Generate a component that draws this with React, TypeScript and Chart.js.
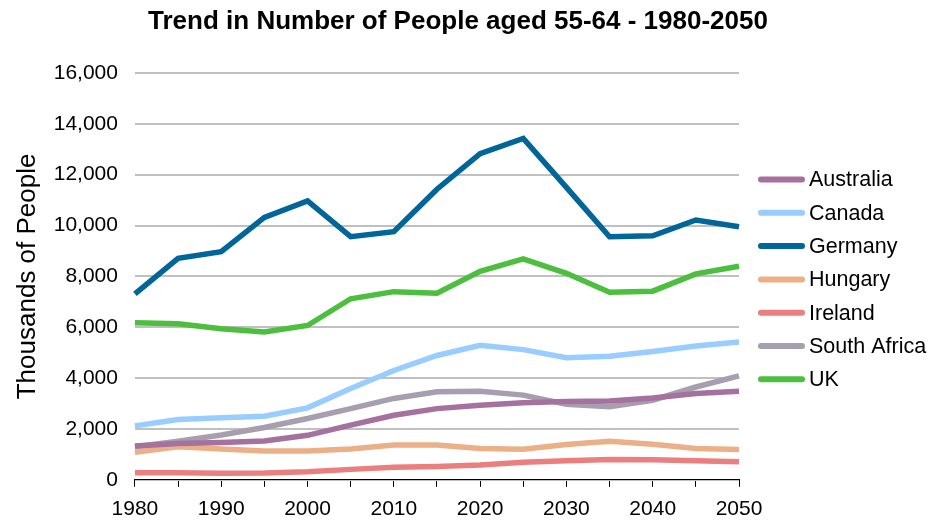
import React, { useEffect, useRef } from "react";
import { Chart, registerables } from "chart.js";

Chart.register(...registerables);

const years = ["1980", "1985", "1990", "1995", "2000", "2005", "2010", "2015", "2020", "2025", "2030", "2035", "2040", "2045", "2050"];

const australia = [1330, 1430, 1470, 1530, 1750, 2150, 2540, 2800, 2930, 3030, 3080, 3100, 3220, 3390, 3480];
const canada = [2120, 2370, 2440, 2500, 2830, 3590, 4300, 4890, 5290, 5120, 4800, 4860, 5050, 5260, 5420];
const germany = [7310, 8710, 8970, 10320, 10970, 9560, 9760, 11430, 12830, 13430, 11500, 9560, 9600, 10220, 9950];
const hungary = [1080, 1300, 1210, 1130, 1130, 1210, 1370, 1370, 1230, 1200, 1390, 1520, 1400, 1230, 1190];
const ireland = [280, 280, 260, 270, 320, 410, 490, 520, 580, 690, 750, 800, 790, 750, 710];
const southAfrica = [1300, 1520, 1760, 2060, 2410, 2800, 3200, 3460, 3480, 3330, 2970, 2870, 3130, 3650, 4090];
const uk = [6180, 6140, 5940, 5810, 6070, 7120, 7400, 7340, 8200, 8690, 8120, 7380, 7420, 8100, 8400];

const seriesNames = ["Australia", "Canada", "Germany", "Hungary", "Ireland", "South Africa", "UK"];
const seriesColors = ["#A5719F", "#99CCFF", "#006699", "#EBB088", "#EB7F7F", "#A79FB0", "#4CBF3F"];
const seriesValues = [australia, canada, germany, hungary, ireland, southAfrica, uk];

const titleText = "Trend in Number of People aged 55-64 - 1980-2050";
const yTitle = "Thousands of People";

const FONT = "'Liberation Sans', Arial, sans-serif";

const sideLegend = {
  id: "sideLegend",
  afterDraw(chart: any) {
    const { ctx, chartArea } = chart;
    const x0 = chartArea.right + 19;
    const mid = (chartArea.top + chartArea.bottom) / 2 + 3;
    const step = 33.3;
    const n = chart.data.datasets.length;
    ctx.save();
    ctx.font = `21.5px ${FONT}`;
    ctx.textBaseline = "middle";
    ctx.textAlign = "left";
    chart.data.datasets.forEach((ds: any, i: number) => {
      const y = mid + (i - (n - 1) / 2) * step;
      ctx.strokeStyle = ds.borderColor;
      ctx.lineWidth = 6;
      ctx.lineCap = "round";
      ctx.beginPath();
      ctx.moveTo(x0 + 3, y);
      ctx.lineTo(x0 + 44, y);
      ctx.stroke();
      ctx.fillStyle = "#000";
      ctx.fillText(ds.label, x0 + 51, y + 1);
    });
    ctx.restore();
  },
};

export default function App() {
  const ref = useRef<HTMLCanvasElement | null>(null);

  useEffect(() => {
    if (!ref.current) return;
    const chart = new Chart(ref.current, {
      type: "line",
      data: {
        labels: years,
        datasets: seriesNames.map((name, i) => ({
          label: name,
          data: seriesValues[i],
          borderColor: seriesColors[i],
          backgroundColor: seriesColors[i],
          borderWidth: 5.5,
          pointRadius: 0,
          tension: 0,
          fill: false,
          yAxisID: "y",
        })),
      },
      plugins: [sideLegend],
      options: {
        responsive: false,
        animation: false,
        devicePixelRatio: 1,
        layout: { padding: { left: 0, right: 14, top: 0, bottom: -9 } },
        plugins: {
          title: {
            display: true,
            text: titleText,
            color: "#000",
            font: { family: FONT, size: 26, weight: "bold" },
            padding: { top: 6, bottom: 35.8 },
          },
          legend: { display: false },
          tooltip: { enabled: false },
        },
        scales: {
          x: {
            type: "category",
            offset: false,
            grid: {
              display: true,
              drawOnChartArea: false,
              drawTicks: true,
              tickLength: 7,
              tickColor: "#000",
              color: "#000",
            },
            border: { display: true, color: "#000", width: 1 },
            ticks: {
              autoSkip: false,
              maxRotation: 0,
              minRotation: 0,
              padding: 10,
              color: "#000",
              font: { family: FONT, size: 21 },
              callback: (_v: any, idx: number) => (Number(years[idx]) % 10 === 0 ? years[idx] : ""),
            },
          },
          y: {
            min: 0,
            max: 16000,
            grid: { color: "#C0C0C0", lineWidth: 2, drawTicks: false },
            border: { display: false },
            ticks: {
              stepSize: 2000,
              padding: 17,
              color: "#000",
              font: { family: FONT, size: 21 },
              callback: (v: any) => Number(v).toLocaleString("en-US"),
            },
            title: {
              display: true,
              text: yTitle,
              color: "#000",
              font: { family: FONT, size: 26 },
              padding: { top: 12.5, bottom: -7 },
            },
          },
          legendSpace: {
            type: "linear",
            position: "right",
            display: true,
            grid: { display: false, drawTicks: false },
            border: { display: false },
            ticks: { display: false },
            afterFit: (scale: any) => {
              scale.width = 177;
            },
          },
        },
      },
    });
    return () => chart.destroy();
  }, []);

  return (
    <div style={{ position: "fixed", left: 0, top: 0, width: 930, height: 523, background: "#fff" }}>
      <canvas ref={ref} width={930} height={523} />
    </div>
  );
}
